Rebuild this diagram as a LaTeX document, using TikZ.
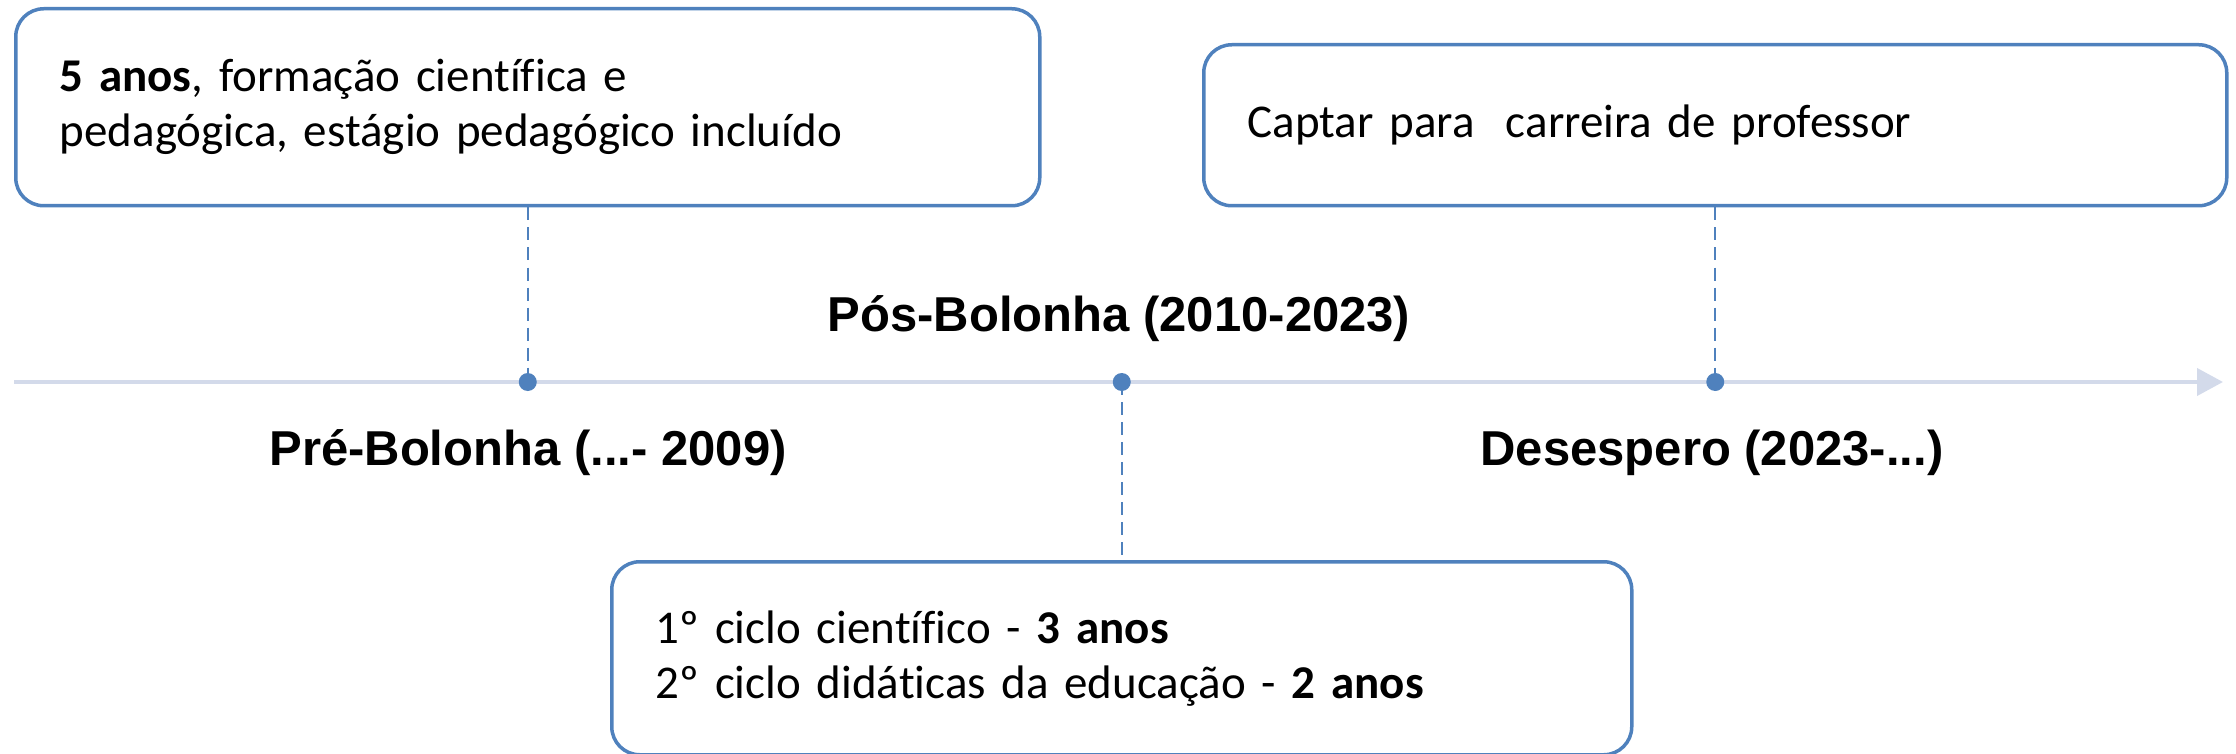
\documentclass[tikz,border=0pt]{standalone}
\usepackage{fontspec}
\setmainfont{Carlito}[Ligatures=NoCommon, WordSpace=0.85]
\newfontfamily\labelfont{Liberation Sans}
\usetikzlibrary{arrows.meta}
\definecolor{boxblue}{HTML}{4F81BD}
\definecolor{axisgray}{HTML}{D3DAEA}
\begin{document}
\begin{tikzpicture}[x=1pt,y=-1pt,
  card/.style={draw=boxblue, line width=3.5pt, rounded corners=28pt, anchor=north west, align=left, inner xsep=44pt, inner ysep=0pt, font=\fontsize{47}{55}\selectfont},
  period/.style={font=\labelfont\bfseries\fontsize{49}{58}\selectfont},
  dot/.style={circle, fill=boxblue, inner sep=0pt, minimum size=18pt},
  leader/.style={draw=boxblue, line width=2pt, dash pattern=on 13pt off 7pt}]
\useasboundingbox (0,0) rectangle (2236,754);
\node[card, text width=936pt, minimum height=197pt] (b1) at (14,7) {\textbf{5 anos}, formação científica e\\pedagógica, estágio pedagógico incluído};
\node[card, text width=935pt, minimum height=161pt] (b2) at (1202,43) {Captar para\ \ carreira de professor};
\node[card, text width=932pt, minimum height=193pt] (b3) at (610,560) {1º ciclo científico - \textbf{3 anos}\\2º ciclo didáticas da educação - \textbf{2 anos}};
\coordinate (tl0) at (14,382);
\coordinate (tl1) at (2223,382);
\draw[axisgray, line width=4pt, -{Triangle[length=26pt,width=27pt]}] (tl0) -- (tl1);
\coordinate (c1) at (b1.south |- tl0);
\coordinate (c2) at (b3.north |- tl0);
\coordinate (c3) at (b2.south |- tl0);
\draw[leader] (b1.south) -- (c1);
\draw[leader] (c2) -- (b3.north);
\draw[leader] (b2.south) -- (c3);
\node[dot] (d1) at (c1) {};
\node[dot] (d2) at (c2) {};
\node[dot] (d3) at (c3) {};
\node[period] (pre) at (528,453) {Pré-Bolonha (...- 2009)};
\node[period] (pos) at (1119,319) {Pós-Bolonha (2010-2023)};
\node[period] (des) at (1712,453) {Desespero (2023-...)};
\end{tikzpicture}
\end{document}
